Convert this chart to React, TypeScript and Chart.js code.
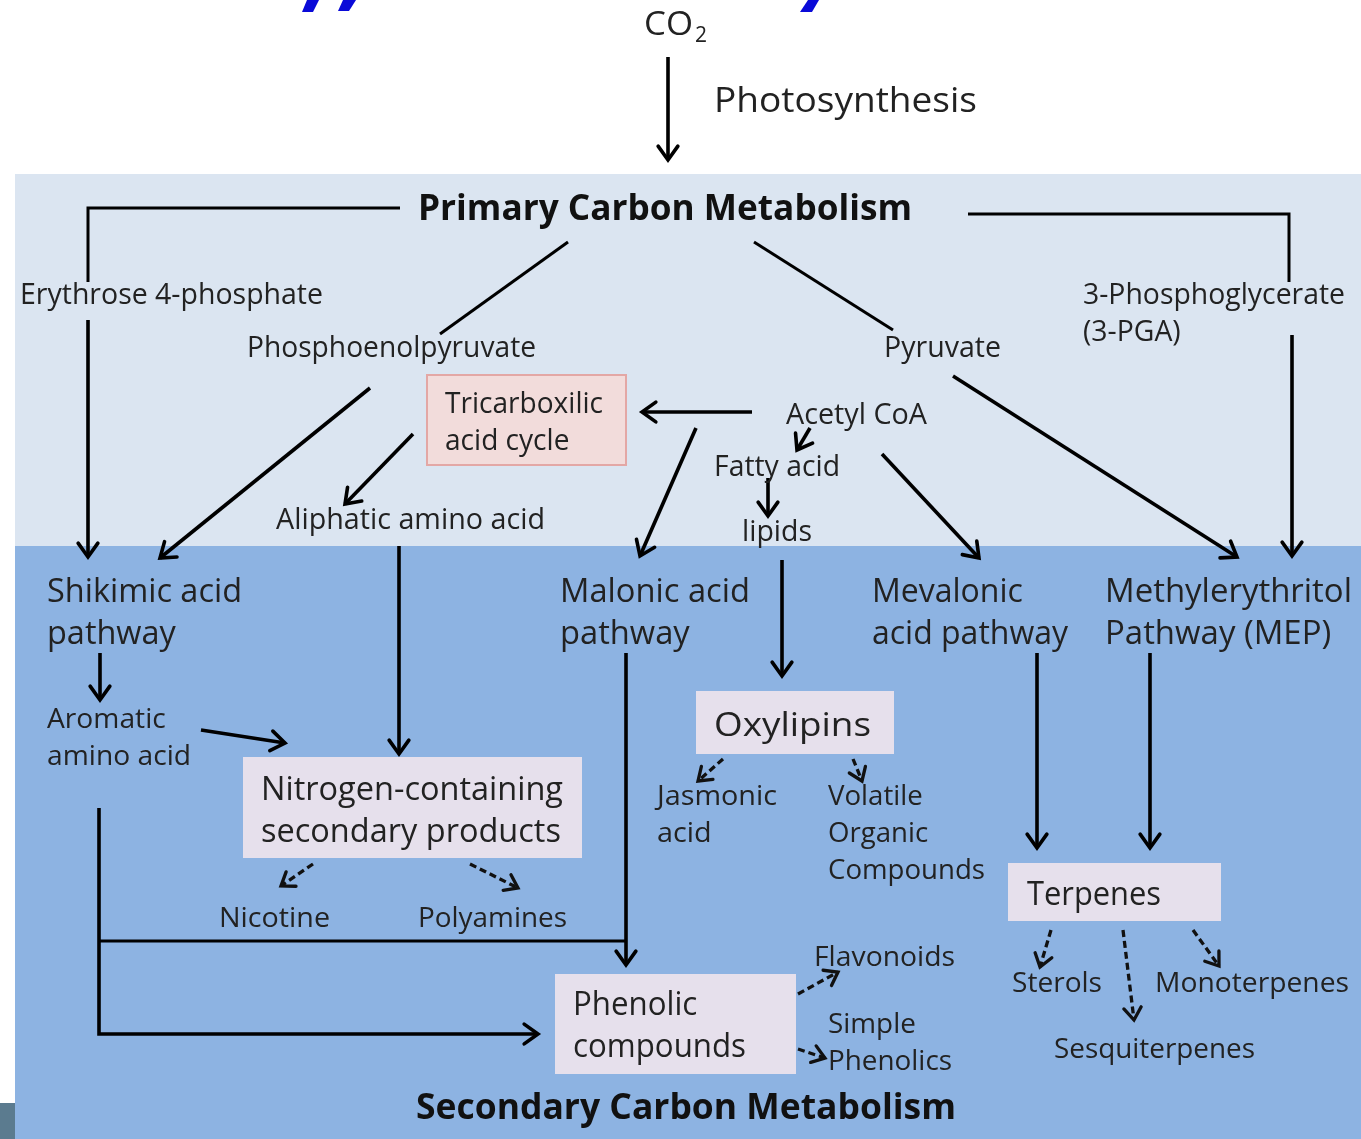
import React, { useEffect, useRef } from "react";
import { Chart, registerables } from "chart.js";

Chart.register(...registerables);

const W = 1361;
const H = 1139;
const FONT = "'Open Sans', 'Noto Sans', sans-serif";

// ---- Node labels (text, left x, first baseline y, line gap, font size, target width, bold) ----
const LABEL_TEXT: string[][] = [
  ["Photosynthesis"],
  ["Primary Carbon Metabolism"],
  ["Erythrose 4-phosphate"],
  ["Phosphoenolpyruvate"],
  ["Pyruvate"],
  ["3-Phosphoglycerate", "(3-PGA)"],
  ["Tricarboxilic", "acid cycle"],
  ["Acetyl CoA"],
  ["Fatty acid"],
  ["lipids"],
  ["Aliphatic amino acid"],
  ["Shikimic acid", "pathway"],
  ["Malonic acid", "pathway"],
  ["Mevalonic", "acid pathway"],
  ["Methylerythritol", "Pathway (MEP)"],
  ["Aromatic", "amino acid"],
  ["Nitrogen-containing", "secondary products"],
  ["Nicotine"],
  ["Polyamines"],
  ["Oxylipins"],
  ["Jasmonic", "acid"],
  ["Volatile", "Organic", "Compounds"],
  ["Terpenes"],
  ["Sterols"],
  ["Monoterpenes"],
  ["Sesquiterpenes"],
  ["Flavonoids"],
  ["Simple", "Phenolics"],
  ["Phenolic", "compounds"],
  ["Secondary Carbon Metabolism"],
];
const LABEL_X = [714, 418, 20, 247, 884, 1083, 445, 786, 714, 742, 276, 47, 560, 872, 1105, 47, 261, 219, 418, 714, 657, 828, 1027, 1012, 1155, 1054, 814, 828, 573, 416];
const LABEL_Y = [112, 220, 304, 357, 357, 304, 413, 424, 476, 541, 529, 602, 602, 602, 602, 728, 800, 927, 927, 736, 805, 805, 905, 992, 992, 1058, 966, 1033, 1015, 1119];
const LABEL_GAP = [0, 0, 0, 0, 0, 37, 37, 0, 0, 0, 0, 42, 42, 42, 42, 37, 42, 0, 0, 0, 37, 37, 0, 0, 0, 0, 0, 37, 42, 0];
const LABEL_SIZE = [34, 35, 29, 29, 29, 29, 29, 29, 29, 29, 29, 32, 32, 32, 32, 28, 32, 28, 28, 33, 28, 28, 32, 28, 28, 28, 28, 28, 32, 35];
const LABEL_WIDTH = [263, 494, 303, 289, 117, 262, 158, 141, 126, 70, 269, 195, 190, 196, 247, 144, 302, 111, 149, 157, 120, 157, 134, 90, 194, 201, 141, 124, 173, 540];
const LABEL_BOLD = [false, true, false, false, false, false, false, false, false, false, false, false, false, false, false, false, false, false, false, false, false, false, false, false, false, false, false, false, false, true];

// ---- Boxes: [x0, y0, x1, y1] ----
const BOX_RECTS = [
  [427, 375, 626, 465],
  [243, 757, 582, 858],
  [555, 974, 796, 1074],
  [696, 691, 894, 754],
  [1008, 863, 1221, 921],
];
const BOX_FILL = ["#f2dcdb", "#e6e0ec", "#e6e0ec", "#e6e0ec", "#e6e0ec"];
const BOX_STROKE = ["#e3a7a5", "", "", "", ""];

// ---- Connectors ----
const SOLID_ARROWS: number[][][] = [
  [[668, 57], [668, 160]],
  [[88, 320], [88, 557]],
  [[370, 388], [160, 558]],
  [[752, 412], [642, 412]],
  [[413, 434], [345, 504]],
  [[399, 546], [399, 754]],
  [[953, 376], [1237, 557]],
  [[1292, 335], [1292, 556]],
  [[810, 428], [797, 450]],
  [[768, 478], [768, 516]],
  [[696, 428], [640, 556]],
  [[882, 454], [979, 558]],
  [[100, 653], [100, 700]],
  [[201, 730], [285, 743]],
  [[99, 808], [99, 1034], [538, 1034]],
  [[626, 653], [626, 965]],
  [[782, 560], [782, 676]],
  [[1037, 653], [1037, 848]],
  [[1150, 653], [1150, 848]],
];
const DASHED_ARROWS: number[][][] = [
  [[313, 864], [281, 886]],
  [[470, 864], [518, 888]],
  [[723, 759], [698, 781]],
  [[853, 759], [862, 781]],
  [[798, 994], [838, 972]],
  [[798, 1049], [825, 1058]],
  [[1051, 930], [1040, 967]],
  [[1123, 930], [1134, 1020]],
  [[1193, 930], [1219, 966]],
];
const PLAIN_LINES: number[][][] = [
  [[400, 208], [88, 208], [88, 282]],
  [[968, 214], [1289, 214], [1289, 282]],
  [[568, 242], [440, 334]],
  [[754, 242], [893, 330]],
  [[99, 941], [626, 941]],
];
// cut-off blue title glyph fragments at the very top (parallelograms)
const BLUE_MARKS: number[][][] = [
  [[307, 0], [319, 0], [313, 12], [302, 12]],
  [[343, 0], [356, 0], [349, 11], [338, 11]],
  [[808, 0], [819, 0], [812, 12], [800, 12]],
];

type Seg = { pts: number[][]; arrow: boolean; dashed: boolean; w: number; color: string };

const segs: Seg[] = [
  ...PLAIN_LINES.map((p) => ({ pts: p, arrow: false, dashed: false, w: 3, color: "#000" })),
  ...SOLID_ARROWS.map((p) => ({ pts: p, arrow: true, dashed: false, w: 3.6, color: "#000" })),
  ...DASHED_ARROWS.map((p) => ({ pts: p, arrow: true, dashed: true, w: 3.3, color: "#111" })),
];

const diagramPlugin = {
  id: "diagram",
  beforeDatasetsDraw(chart: any) {
    const ctx = chart.ctx as CanvasRenderingContext2D;
    const xs = chart.scales.x;
    const ys = chart.scales.y;
    const px = (v: number) => xs.getPixelForValue(v);
    const py = (v: number) => ys.getPixelForValue(v);
    const rect = (x0: number, y0: number, x1: number, y1: number, c: string) => {
      ctx.fillStyle = c;
      ctx.fillRect(px(x0), py(y0), px(x1) - px(x0), py(y1) - py(y0));
    };
    ctx.save();
    rect(0, 0, W, H, "#ffffff");
    rect(15, 174, W, 546, "#dbe5f1");
    rect(15, 546, W, H, "#8db3e2");
    rect(0, 1103, 15, H, "#5b7b8f");
    BOX_RECTS.forEach((b, i) => {
      rect(b[0], b[1], b[2], b[3], BOX_FILL[i]);
      if (BOX_STROKE[i]) {
        ctx.strokeStyle = BOX_STROKE[i];
        ctx.lineWidth = 2;
        ctx.strokeRect(px(b[0]), py(b[1]), px(b[2]) - px(b[0]), py(b[3]) - py(b[1]));
      }
    });
    ctx.fillStyle = "#0a0ad8";
    BLUE_MARKS.forEach((poly) => {
      ctx.beginPath();
      poly.forEach(([x, y], k) => (k ? ctx.lineTo(px(x), py(y)) : ctx.moveTo(px(x), py(y))));
      ctx.closePath();
      ctx.fill();
    });
    ctx.restore();
  },
  afterDatasetsDraw(chart: any) {
    const ctx = chart.ctx as CanvasRenderingContext2D;
    const xs = chart.scales.x;
    const ys = chart.scales.y;
    ctx.save();
    // arrowheads
    chart.data.datasets.forEach((ds: any, i: number) => {
      if (!ds.arrow) return;
      const pts = chart.getDatasetMeta(i).data;
      const a = pts[pts.length - 2];
      const b = pts[pts.length - 1];
      const ang = Math.atan2(b.y - a.y, b.x - a.x);
      const len = ds.dashedHead ? 15 : 17;
      const spread = 0.62;
      ctx.strokeStyle = ds.borderColor;
      ctx.lineWidth = ds.borderWidth;
      ctx.setLineDash([]);
      ctx.lineCap = "round";
      ctx.lineJoin = "miter";
      ctx.beginPath();
      ctx.moveTo(b.x - len * Math.cos(ang - spread), b.y - len * Math.sin(ang - spread));
      ctx.lineTo(b.x, b.y);
      ctx.lineTo(b.x - len * Math.cos(ang + spread), b.y - len * Math.sin(ang + spread));
      ctx.stroke();
    });
    // labels
    ctx.textBaseline = "alphabetic";
    ctx.textAlign = "left";
    LABEL_TEXT.forEach((lines, i) => {
      ctx.font = `${LABEL_BOLD[i] ? "bold " : ""}${LABEL_SIZE[i]}px ${FONT}`;
      ctx.fillStyle = LABEL_BOLD[i] ? "#111111" : "#222222";
      const widest = Math.max(...lines.map((l) => ctx.measureText(l).width));
      const sx = LABEL_WIDTH[i] / widest;
      lines.forEach((line, j) => {
        const x = xs.getPixelForValue(LABEL_X[i]);
        const y = ys.getPixelForValue(LABEL_Y[i] + j * LABEL_GAP[i]);
        ctx.save();
        ctx.translate(x, y);
        ctx.scale(sx, 1);
        ctx.fillText(line, 0, 0);
        ctx.restore();
      });
    });
    // CO2 with subscript
    ctx.fillStyle = "#222222";
    ctx.font = `33px ${FONT}`;
    const co = "CO";
    const cw = ctx.measureText(co).width;
    ctx.save();
    ctx.translate(xs.getPixelForValue(644), ys.getPixelForValue(35));
    ctx.scale(49 / cw, 1);
    ctx.fillText(co, 0, 0);
    ctx.restore();
    ctx.font = `22px ${FONT}`;
    const tw = ctx.measureText("2").width;
    ctx.save();
    ctx.translate(xs.getPixelForValue(695), ys.getPixelForValue(42));
    ctx.scale(12 / tw, 1);
    ctx.fillText("2", 0, 0);
    ctx.restore();
    ctx.restore();
  },
};

export default function App() {
  const ref = useRef<HTMLCanvasElement | null>(null);
  useEffect(() => {
    if (!ref.current) return;
    const datasets = segs.map((s) => ({
      data: s.pts.map(([x, y]) => ({ x, y })),
      showLine: true,
      borderColor: s.color,
      backgroundColor: s.color,
      borderWidth: s.w,
      borderDash: s.dashed ? [7, 4] : [],
      borderCapStyle: "butt",
      borderJoinStyle: "miter",
      pointRadius: 0,
      pointHoverRadius: 0,
      tension: 0,
      fill: false,
      arrow: s.arrow,
      dashedHead: s.dashed,
    }));
    const chart = new Chart(ref.current, {
      type: "scatter",
      data: { datasets } as any,
      options: {
        animation: false,
        responsive: false,
        maintainAspectRatio: false,
        events: [],
        layout: { padding: 0 },
        plugins: { legend: { display: false }, tooltip: { enabled: false } },
        scales: {
          x: { type: "linear", min: 0, max: W, display: false },
          y: { type: "linear", min: 0, max: H, reverse: true, display: false },
        },
      } as any,
      plugins: [diagramPlugin],
    });
    return () => chart.destroy();
  }, []);
  return (
    <div style={{ position: "fixed", left: 0, top: 0, width: W, height: H, background: "#fff" }}>
      <canvas ref={ref} width={W} height={H} style={{ display: "block", width: W, height: H }} />
    </div>
  );
}
